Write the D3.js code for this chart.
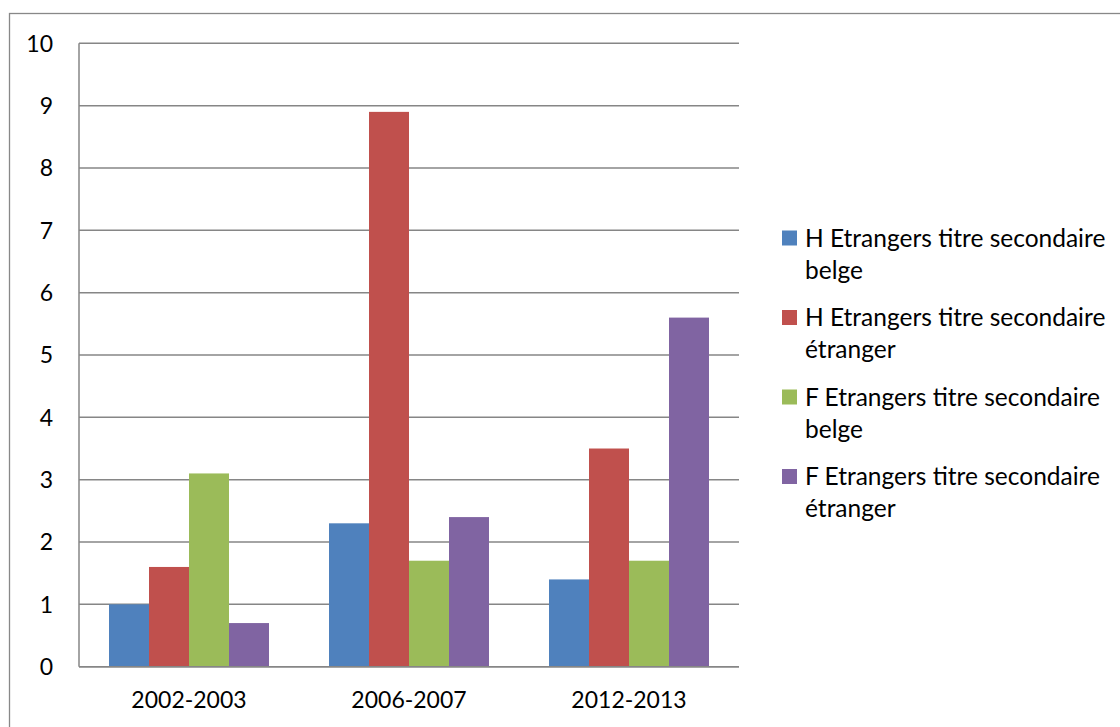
<!DOCTYPE html>
<html>
<head>
<meta charset="utf-8">
<script src="https://cdn.jsdelivr.net/npm/d3@7"></script>
<style>
  body { margin: 0; background: #fff; }
  svg text { font-family: Lato, "Open Sans", sans-serif; fill: #000; }
</style>
</head>
<body>
<div id="chart"></div>
<script>
const years = ["2002-2003", "2006-2007", "2012-2013"];
const seriesNames = [
  "H Etrangers titre secondaire belge",
  "H Etrangers titre secondaire étranger",
  "F Etrangers titre secondaire belge",
  "F Etrangers titre secondaire étranger"
];
const legendLines = [
  ["H Etrangers titre secondaire", "belge"],
  ["H Etrangers titre secondaire", "étranger"],
  ["F Etrangers titre secondaire", "belge"],
  ["F Etrangers titre secondaire", "étranger"]
];
const hBelge = [1.0, 2.3, 1.4];
const hEtranger = [1.6, 8.9, 3.5];
const fBelge = [3.1, 1.7, 1.7];
const fEtranger = [0.7, 2.4, 5.6];
const yTicks = [0, 1, 2, 3, 4, 5, 6, 7, 8, 9, 10];
const colors = ["#4F81BD", "#C0504D", "#9BBB59", "#8064A2"];

const allValues = [hBelge, hEtranger, fBelge, fEtranger];
const data = years.map((y, i) => ({
  year: y,
  values: seriesNames.map((s, j) => ({ key: s, idx: j, value: allValues[j][i] }))
}));

const width = 1120, height = 727;
const plot = { left: 79, right: 739, top: 43.3, bottom: 666.7 };

const svg = d3.select("#chart")
  .append("svg")
  .attr("width", width)
  .attr("height", height);

// outer chart border (runs off the picture on right and bottom)
svg.append("rect")
  .attr("x", 9.5).attr("y", 13.5)
  .attr("width", 1130).attr("height", 740)
  .attr("fill", "none")
  .attr("stroke", "#888")
  .attr("stroke-width", 1.3);

const x0 = d3.scaleBand()
  .domain(years)
  .range([plot.left, plot.right]);

const x1 = d3.scaleBand()
  .domain(seriesNames)
  .range([0, x0.bandwidth()])
  .paddingOuter(0.75);

const y = d3.scaleLinear()
  .domain([0, 10])
  .range([plot.bottom, plot.top]);

// gridlines
svg.append("g")
  .selectAll("line")
  .data(yTicks)
  .enter()
  .append("line")
  .attr("x1", plot.left).attr("x2", plot.right)
  .attr("y1", d => y(d)).attr("y2", d => y(d))
  .attr("stroke", "#868686")
  .attr("stroke-width", 1.5);

// y axis line
svg.append("line")
  .attr("x1", plot.left).attr("x2", plot.left)
  .attr("y1", plot.top).attr("y2", plot.bottom)
  .attr("stroke", "#868686")
  .attr("stroke-width", 1.5);

// bars
svg.append("g")
  .selectAll("g")
  .data(data)
  .enter()
  .append("g")
  .attr("transform", d => "translate(" + x0(d.year) + ",0)")
  .selectAll("rect")
  .data(d => d.values)
  .enter()
  .append("rect")
  .attr("x", d => x1(d.key))
  .attr("width", x1.bandwidth())
  .attr("y", d => y(d.value))
  .attr("height", d => y(0) - y(d.value))
  .attr("fill", d => colors[d.idx]);

// x axis baseline on top of bars
svg.append("line")
  .attr("x1", plot.left).attr("x2", plot.right)
  .attr("y1", y(0)).attr("y2", y(0))
  .attr("stroke", "#868686")
  .attr("stroke-width", 1.5);

// y tick labels
svg.append("g")
  .selectAll("text")
  .data(yTicks)
  .enter()
  .append("text")
  .attr("x", 53)
  .attr("y", d => y(d))
  .attr("dy", "0.36em")
  .attr("text-anchor", "end")
  .style("font-size", "23px")
  .text(d => d);

// x tick labels
svg.append("g")
  .selectAll("text")
  .data(years)
  .enter()
  .append("text")
  .attr("x", d => x0(d) + x0.bandwidth() / 2)
  .attr("y", 708)
  .attr("text-anchor", "middle")
  .style("font-size", "23px")
  .text(d => d);

// legend
const legend = svg.append("g")
  .selectAll("g")
  .data(legendLines)
  .enter()
  .append("g")
  .attr("transform", (d, i) => "translate(782," + (238 + i * 79.5) + ")");

legend.append("rect")
  .attr("x", 0).attr("y", -7.5)
  .attr("width", 15).attr("height", 15)
  .attr("fill", (d, i) => colors[i]);

legend.append("text")
  .attr("x", 23)
  .attr("y", 0)
  .style("font-size", "24.5px")
  .selectAll("tspan")
  .data(d => d)
  .enter()
  .append("tspan")
  .attr("x", 23)
  .attr("dy", (d, i) => i === 0 ? "0.36em" : "32px")
  .text(d => d);
</script>
</body>
</html>
